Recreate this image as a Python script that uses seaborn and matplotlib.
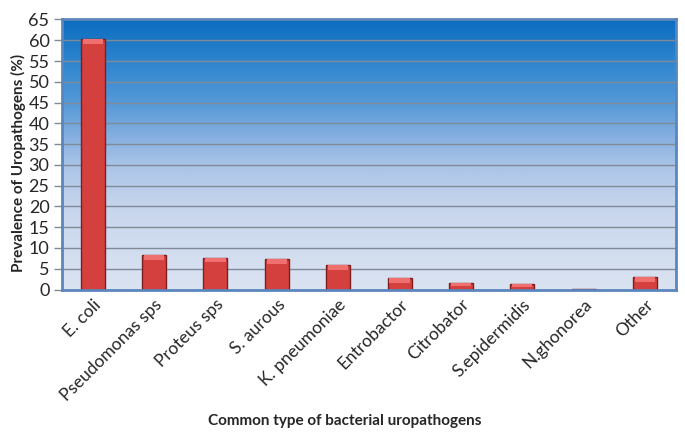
import numpy as np
import pandas as pd
import matplotlib
matplotlib.use('Agg')
import matplotlib.pyplot as plt
import seaborn as sns
from matplotlib.colors import LinearSegmentedColormap

# Data
pathogens = ['E. coli', 'Pseudomonas sps', 'Proteus sps', 'S. aurous',
             'K. pneumoniae', 'Entrobactor', 'Citrobator', 'S.epidermidis',
             'N.ghonorea', 'Other']
prevalence = [60.2, 8.4, 7.7, 7.3, 5.8, 2.8, 1.5, 1.4, 0.2, 2.9]
y_ticks = list(range(0, 70, 5))

df = pd.DataFrame({'pathogen': pathogens, 'prevalence': prevalence})

sns.set_style('white')
plt.rcParams['font.family'] = ['Lato', 'DejaVu Sans']

fig = plt.figure(figsize=(6.85, 4.43), dpi=100)
ax = fig.add_axes([0.0905, 0.3465, 0.896, 0.6095])

# Gradient background (dark blue at top -> pale lavender at bottom)
grad_cmap = LinearSegmentedColormap.from_list(
    'bg', [(0.0, '#dae3f1'), (0.3, '#c8d6ed'), (0.46, '#aac4e7'),
           (0.54, '#8fb4e2'), (0.69, '#5699d7'), (0.85, '#2d84ce'),
           (1.0, '#0b6cbf')])
grad = np.linspace(0, 1, 256).reshape(-1, 1)
ax.imshow(grad, cmap=grad_cmap, origin='lower', aspect='auto',
          extent=[-0.5, len(pathogens) - 0.5, 0, 65], zorder=0)

# Grid lines
for t in y_ticks[1:-1]:
    ax.axhline(t, color='#7f8b99', lw=1.0, zorder=1)

sns.barplot(data=df, x='pathogen', y='prevalence', color='#d4403e',
            width=0.39, edgecolor='#7e1e1e', linewidth=1.0,
            saturation=1, ax=ax, zorder=2)

# Lighter cap on top of each bar
for p in ax.patches:
    h = p.get_height()
    cap = min(1.2, h * 0.5)
    ax.add_patch(plt.Rectangle((p.get_x() + 0.03, h - cap), p.get_width() - 0.06,
                               cap, facecolor='#f07070', edgecolor='none',
                               zorder=3))

ax.set_xlim(-0.5, len(pathogens) - 0.5)
ax.set_ylim(0, 65)
ax.set_yticks(y_ticks)
ax.set_yticklabels([str(t) for t in y_ticks], fontsize=13)
ax.tick_params(axis='y', length=6, width=1, color='#7f8b99', pad=3, left=True)
ax.tick_params(axis='x', length=0, pad=5)
plt.setp(ax.get_xticklabels(), rotation=45, ha='right',
         rotation_mode='anchor', fontsize=12.5)

for s in ax.spines.values():
    s.set_color('#5b86bd')
    s.set_linewidth(2)
    s.set_visible(True)

ax.set_xlabel('Common type of bacterial uropathogens', fontsize=11,
              fontweight='bold')
ax.xaxis.set_label_coords(0.461, -0.46)
ax.set_ylabel('Prevalence of Uropathogens (%)', fontsize=11,
              fontweight='bold')
ax.yaxis.set_label_coords(-0.058, 0.47)

fig.savefig('out.png', dpi=100)
